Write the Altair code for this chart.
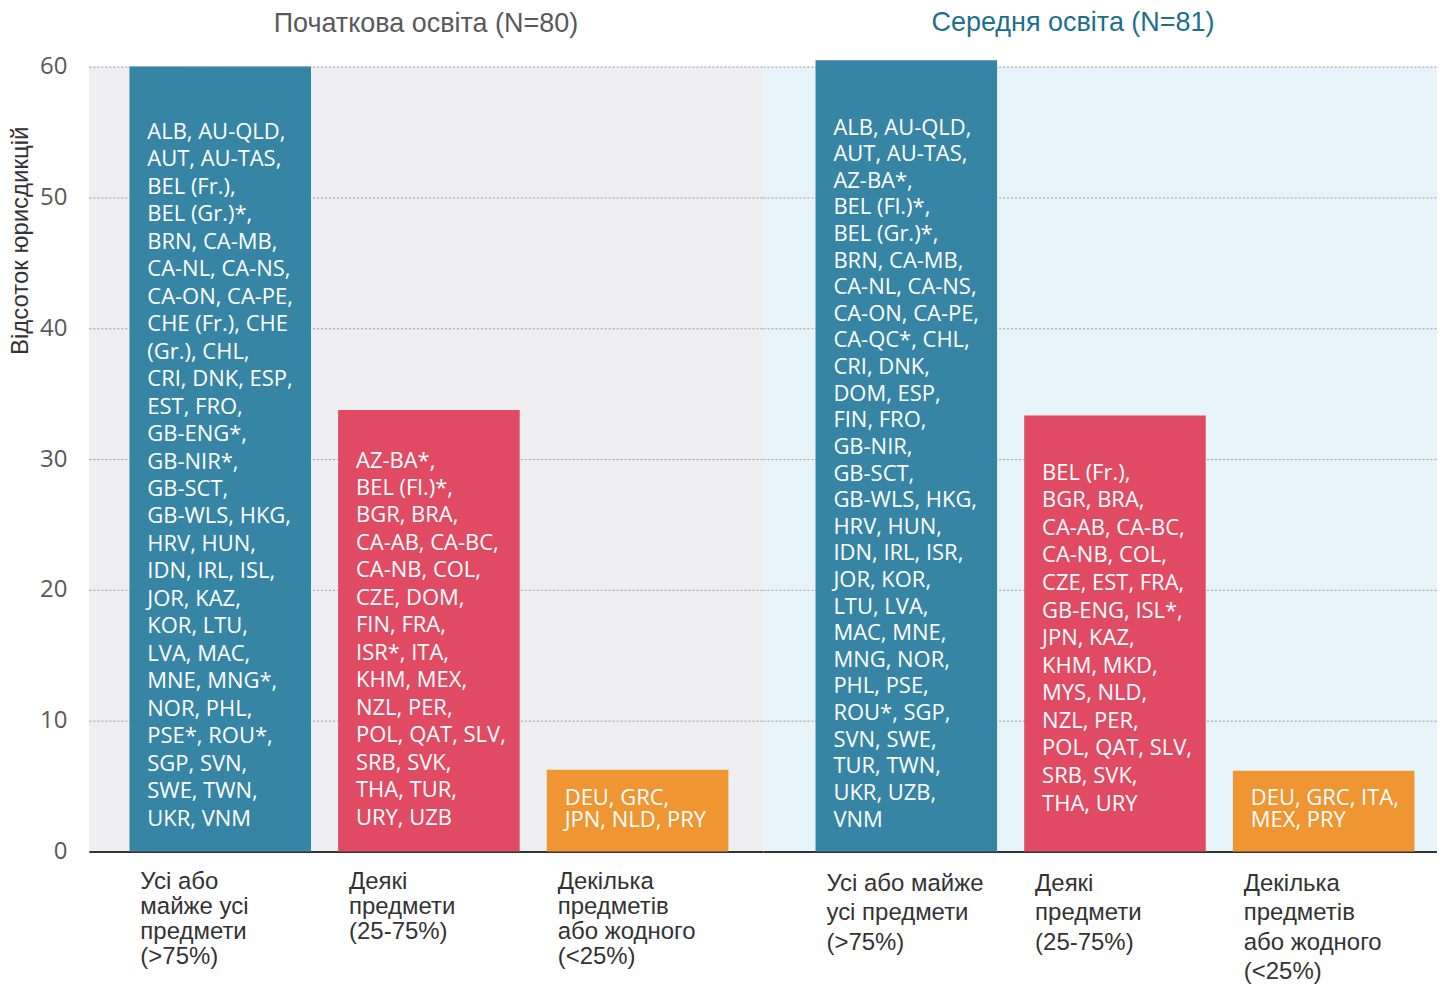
import altair as alt
import pandas as pd

# ---- data ----
groups = ["all", "some", "few"]
group_colors = ["#3685a5", "#e04b63", "#ef9532"]

primary_title = "Початкова освіта (N=80)"
secondary_title = "Середня освіта (N=81)"

primary_labels = ["\u00a0Усі або|майже усі|предмети|(>75%)",
                  "Деякі|предмети|(25-75%)",
                  "\u00a0Декілька|предметів|або жодного|(<25%)"]
secondary_labels = ["Усі або майже|усі предмети|(>75%)",
                    "Деякі|предмети|(25-75%)",
                    "Декілька|предметів|або жодного|(<25%)"]

primary_pct = [60.0, 33.75, 6.25]
secondary_pct = [60.49, 33.33, 6.17]

primary_all = ["ALB, AU-QLD,", "AUT, AU-TAS,", "BEL (Fr.),", "BEL (Gr.)*,",
               "BRN, CA-MB,", "CA-NL, CA-NS,", "CA-ON, CA-PE,", "CHE (Fr.), CHE",
               "(Gr.), CHL,", "CRI, DNK, ESP,", "EST, FRO,", "GB-ENG*,",
               "GB-NIR*,", "GB-SCT,", "GB-WLS, HKG,", "HRV, HUN,",
               "IDN, IRL, ISL,", "JOR, KAZ,", "KOR, LTU,", "LVA, MAC,",
               "MNE, MNG*,", "NOR, PHL,", "PSE*, ROU*,", "SGP, SVN,",
               "SWE, TWN,", "UKR, VNM"]
primary_some = ["AZ-BA*,", "BEL (Fl.)*,", "BGR, BRA,", "CA-AB, CA-BC,",
                "CA-NB, COL,", "CZE, DOM,", "FIN, FRA,", "ISR*, ITA,",
                "KHM, MEX,", "NZL, PER,", "POL, QAT, SLV,", "SRB, SVK,",
                "THA, TUR,", "URY, UZB"]
primary_few = ["DEU, GRC,", "JPN, NLD, PRY"]

secondary_all = ["ALB, AU-QLD,", "AUT, AU-TAS,", "AZ-BA*,", "BEL (Fl.)*,",
                 "BEL (Gr.)*,", "BRN, CA-MB,", "CA-NL, CA-NS,", "CA-ON, CA-PE,",
                 "CA-QC*, CHL,", "CRI, DNK,", "DOM, ESP,", "FIN, FRO,",
                 "GB-NIR,", "GB-SCT,", "GB-WLS, HKG,", "HRV, HUN,",
                 "IDN, IRL, ISR,", "JOR, KOR,", "LTU, LVA,", "MAC, MNE,",
                 "MNG, NOR,", "PHL, PSE,", "ROU*, SGP,", "SVN, SWE,",
                 "TUR, TWN,", "UKR, UZB,", "VNM"]
secondary_some = ["BEL (Fr.),", "BGR, BRA,", "CA-AB, CA-BC,", "CA-NB, COL,",
                  "CZE, EST, FRA,", "GB-ENG, ISL*,", "JPN, KAZ,", "KHM, MKD,",
                  "MYS, NLD,", "NZL, PER,", "POL, QAT, SLV,", "SRB, SVK,",
                  "THA, URY"]
secondary_few = ["DEU, GRC, ITA,", "MEX, PRY"]

y_ticks = [0, 10, 20, 30, 40, 50, 60]


def panel(labels, pcts, texts, title, title_color, title_dx, title_offset, align,
          label_lh, label_pad, show_y, bg, bottom_gaps, line_heights):
    df = pd.DataFrame({
        "cat": labels,
        "group": groups,
        "pct": pcts,
        "countries": ["\n".join(t) for t in texts],
    })
    xaxis = alt.Axis(
        title=None, labelExpr="split(datum.label, '|')", labelAngle=0,
        labelAlign="left", labelBaseline="top", labelOffset=-80,
        labelPadding=label_pad, labelLineHeight=label_lh,
        labelFont="Liberation Sans", labelFontSize=24, labelColor="#333333",
        labelLimit=400, ticks=False, domain=True, domainColor="#333333",
        domainWidth=2, grid=False)
    xscale = alt.Scale(paddingInner=0.13, paddingOuter=0.18, align=align)
    if show_y:
        yaxis = alt.Axis(
            title="Відсоток юрисдикцій", titleFont="Liberation Sans",
            titleFontSize=24, titleFontWeight="normal", titleColor="#333333",
            titleX=-68, titleY=174, titleAlign="center", titleBaseline="middle",
            titleAngle=-90,
            values=y_ticks, labelFont="Open Sans", labelFontSize=24,
            labelColor="#595959", labelPadding=22, ticks=False, domain=False,
            grid=True)
    else:
        yaxis = alt.Axis(title=None, values=y_ticks, labels=False, ticks=False,
                         domain=False, grid=True)
    yscale = alt.Scale(domain=[0, 60], nice=False, zero=True)
    xenc = alt.X("cat:N", sort=labels, scale=xscale, axis=xaxis)

    bars = alt.Chart(df).mark_bar().encode(
        x=xenc,
        y=alt.Y("pct:Q", scale=yscale, axis=yaxis),
        color=alt.Color("group:N", scale=alt.Scale(domain=groups, range=group_colors),
                        legend=None),
    )
    layers = [bars]
    for g, t, gap, lh in zip(groups, texts, bottom_gaps, line_heights):
        dy = -(gap + (len(t) - 1) * lh)
        layers.append(
            alt.Chart(df).transform_filter(f"datum.group == '{g}'").mark_text(
                lineBreak="\n", align="left", baseline="alphabetic",
                dx=-73, dy=dy, lineHeight=lh, font="Open Sans", fontSize=22,
                color="white",
            ).encode(
                x=xenc,
                y=alt.Y(datum=0, scale=yscale, axis=yaxis),
                text="countries:N",
            )
        )

    return alt.layer(*layers).properties(
        width=675, height=786,
        title=alt.TitleParams(title, color=title_color, font="Liberation Sans",
                              fontSize=27, fontWeight="normal", anchor="middle",
                              frame="group", baseline="bottom", offset=title_offset,
                              dx=title_dx),
        view=alt.ViewBackground(fill=bg, stroke=None),
    )


left = panel(primary_labels, primary_pct, [primary_all, primary_some, primary_few],
             primary_title, "#595959", 0, -10, 0.54, 25, 18, True, "#efeff1",
             [26, 27, 25], [27.5, 27.5, 22])
right = panel(secondary_labels, secondary_pct,
              [secondary_all, secondary_some, secondary_few],
              secondary_title, "#1d6f8c", -27, -4, 0.7, 29.5, 20, False, "#e7f4fa",
              [25, 41, 25], [26.65, 27.6, 22])

chart = alt.hconcat(left, right, spacing=0).properties(
    padding={"left": 1, "top": 0, "right": 0, "bottom": 0}
).configure_axis(
    gridColor="#9e9e9e", gridDash=[2, 2], gridWidth=1
).configure_view(stroke=None)

chart.save("out.html", embed_options={"renderer": "svg", "actions": False})
